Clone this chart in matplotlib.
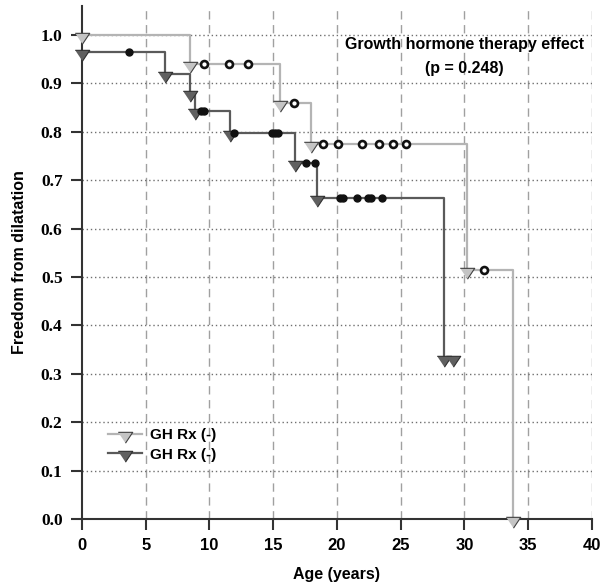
import numpy as np
import matplotlib
matplotlib.use("Agg")
import matplotlib.pyplot as plt

# Kaplan-Meier style data
light_times = [0, 8.5, 15.5, 18.0, 30.2, 33.8]
light_surv = [1.0, 0.94, 0.86, 0.775, 0.515, 0.0]
light_censor = [9.6, 11.5, 13.0, 16.6, 18.9, 20.1, 22.0, 23.3, 24.4, 25.4, 31.5]

dark_times = [0, 6.5, 8.5, 8.9, 11.6, 16.7, 18.4, 28.4, 29.1]
dark_surv = [0.965, 0.92, 0.88, 0.843, 0.797, 0.735, 0.663, 0.333, 0.333]
dark_censor = [3.7, 9.3, 9.6, 11.9, 14.9, 15.1, 15.4, 17.6, 18.3,
               20.2, 20.5, 21.6, 22.4, 22.7, 23.5]

labels = ["GH Rx (-)", "GH Rx (-)"]


def surv_at(times, surv, t):
    idx = np.searchsorted(times, t, side="right") - 1
    return np.array(surv)[idx]


fig = plt.figure(figsize=(6.01, 5.85), dpi=100)
ax = fig.add_axes([0.1364, 0.1128, 0.8486, 0.877])

# grid
for xv in range(5, 41, 5):
    ax.axvline(xv, color="#a0a0a0", ls=(0, (6, 4)), lw=1.0, zorder=0)
for yv in np.arange(0.1, 1.01, 0.1):
    ax.axhline(yv, color="#707070", ls=(0, (1, 2)), lw=1.0, zorder=0)

tri = [(-1, 0.3), (1, 0.3), (0, -1.2)]
tri_ms = 12.5

# light series
ax.step(light_times, light_surv, where="post", color="#b4b4b4", lw=1.6, zorder=2)
ax.plot(light_times, light_surv, ls="none", marker=tri, ms=tri_ms,
        mfc="#c4c4c4", mec="#404040", mew=0.8, zorder=4, clip_on=False)
ax.plot(light_censor, surv_at(light_times, light_surv, light_censor), ls="none",
        marker="o", ms=5, mfc="white", mec="#111111", mew=1.9, zorder=5)

# dark series
ax.step(dark_times, dark_surv, where="post", color="#5a5a5a", lw=1.6, zorder=2)
ax.plot(dark_times, dark_surv, ls="none", marker=tri, ms=tri_ms,
        mfc="#606060", mec="#303030", mew=0.8, zorder=4, clip_on=False)
ax.plot(dark_censor, surv_at(dark_times, dark_surv, dark_censor), ls="none",
        marker="o", ms=5, mfc="#111111", mec="#111111", mew=1.0, zorder=5)

# legend
ax.plot([], [], color="#b4b4b4", lw=1.6, marker=tri, ms=tri_ms, mfc="#c4c4c4",
        mec="#404040", mew=0.8, label=labels[0])
ax.plot([], [], color="#5a5a5a", lw=1.6, marker=tri, ms=tri_ms, mfc="#606060",
        mec="#303030", mew=0.8, label=labels[1])
h, l = ax.get_legend_handles_labels()
ax.legend(h, l, loc="lower left", bbox_to_anchor=(0.025, 0.085), frameon=False,
          prop={"family": "Liberation Sans", "weight": "bold", "size": 11},
          handlelength=2.2, handletextpad=0.5, labelspacing=0.35)

ax.text(30.0, 0.955, "Growth hormone therapy effect\n(p = 0.248)", ha="center",
        va="center", fontsize=11.5, fontweight="bold", family="Liberation Sans",
        linespacing=1.75)

ax.set_xlim(0, 40)
ax.set_ylim(0, 1.06)
ax.set_xticks(range(0, 41, 5))
ax.set_yticks(np.arange(0, 1.01, 0.1))
ax.set_yticklabels([f"{v:.1f}" for v in np.arange(0, 1.01, 0.1)],
                   family="Liberation Serif", fontweight="bold", fontsize=12.5)
ax.set_xticklabels([str(v) for v in range(0, 41, 5)],
                   family="Liberation Sans", fontweight="bold", fontsize=12)
ax.tick_params(length=8, width=1.5, color="#333333", pad=6)
for s in ["top", "right"]:
    ax.spines[s].set_visible(False)
for s in ["left", "bottom"]:
    ax.spines[s].set_linewidth(1.5)
    ax.spines[s].set_color("#333333")

ax.set_xlabel("Age (years)", family="Liberation Sans", fontweight="bold",
              fontsize=11.5, labelpad=10)
ax.set_ylabel("Freedom from dilatation", family="Liberation Sans",
              fontweight="bold", fontsize=11.5, labelpad=10)

fig.savefig("out.png", dpi=100)
